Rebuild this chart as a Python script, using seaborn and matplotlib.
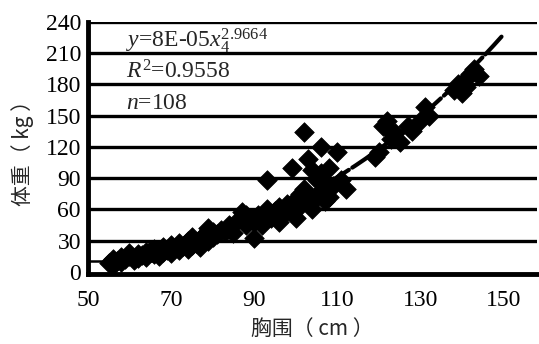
import numpy as np
import pandas as pd
import matplotlib
matplotlib.use("Agg")
import matplotlib.pyplot as plt
import seaborn as sns

# chest girth (cm) and body weight (kg)
chest = [55,56,56,57,58,58,59,60,60,61,62,62,63,64,64,65,66,66,67,68,68,69,70,70,71,72,72,73,74,74,75,75,76,77,77,78,79,79,80,80,
         81,82,83,84,85,86,87,88,88,89,90,90,91,92,93,93,94,95,96,96,97,98,99,99,100,
         100,101,101,102,102,103,103,104,104,105,105,106,106,106,107,107,108,108,109,110,111,112,
         119,120,121,122,122,123,124,125,127,128,130,131,132,
         138,139,140,141,141,142,143,144]
weight = [8,12,6,10,14,9,12,15,18,11,17,13,16,19,14,20,17,22,15,24,19,21,26,18,23,28,21,25,30,22,33,26,28,31,24,35,42,30,38,33,
          36,40,38,45,37,50,57,55,45,52,32,48,55,45,88,60,52,58,62,48,55,65,100,60,70,
          52,75,63,134,80,108,70,98,60,88,72,120,95,78,68,85,100,72,82,115,88,80,
          110,115,140,138,145,128,133,125,140,135,145,158,150,
          175,180,172,185,178,190,195,188]

fit_a = 8e-05
fit_b = 2.9664
x_ticks = [50, 70, 90, 110, 130, 150]
y_ticks = [0, 30, 60, 90, 120, 150, 180, 210, 240]

sns.set_theme(style="white")
plt.rcParams['font.family'] = ['Liberation Serif', 'Noto Sans CJK SC', 'DejaVu Sans']
plt.rcParams['mathtext.fontset'] = 'custom'
plt.rcParams['mathtext.rm'] = 'Liberation Serif'
plt.rcParams['mathtext.it'] = 'Liberation Serif:italic'

fig = plt.figure(figsize=(5.39, 3.44), dpi=100)
ax = fig.add_axes([0.163, 0.204, 0.833, 0.732])

df = pd.DataFrame({"chest": chest, "weight": weight})

ax.set_xlim(50, 158)
ax.set_ylim(-2, 240)

for yv in y_ticks[1:]:
    ax.axhline(yv, color='black', lw=2.4, zorder=1)
ax.hlines(10, 50, 66, color='black', lw=1.8, zorder=1)

sns.scatterplot(data=df, x="chest", y="weight", marker='D', s=100, color='black',
                edgecolor='black', linewidth=0.5, ax=ax, zorder=3, legend=False)

xf = np.linspace(55, 149.5, 200)
ax.plot(xf, fit_a * xf ** fit_b, color='black', lw=3, ls=(0, (6, 1)), zorder=4,
        solid_capstyle='round', dash_capstyle='round')

ax.set_xticks(x_ticks)
ax.set_yticks(y_ticks)
ax.tick_params(axis='x', direction='in', length=3, width=3, labelsize=17, pad=12, colors='black')
ax.tick_params(axis='y', direction='out', length=2, width=3, labelsize=17, pad=3, colors='black')
for sp in ['top', 'right']:
    ax.spines[sp].set_visible(False)
for sp in ['left', 'bottom']:
    ax.spines[sp].set_linewidth(3.5)
    ax.spines[sp].set_color('black')

ax.set_xlabel('胸围（ cm ）', fontsize=15, family=['Noto Sans CJK SC'], labelpad=5)
ax.set_ylabel('体重（ kg ）', fontsize=15, family=['Noto Sans CJK SC'], labelpad=8)

ax.text(0.085, 0.925, r'$\mathit{y}$=8E-05$\mathit{x}_{4}^{2.9664}$', transform=ax.transAxes,
        fontsize=17, va='center', ha='left')
ax.text(0.085, 0.80, r'$\mathit{R}^{2}$=0.9558', transform=ax.transAxes,
        fontsize=17, va='center', ha='left')
ax.text(0.085, 0.675, r'$\mathit{n}$=108', transform=ax.transAxes,
        fontsize=17, va='center', ha='left')

fig.savefig('out.png', dpi=100)
